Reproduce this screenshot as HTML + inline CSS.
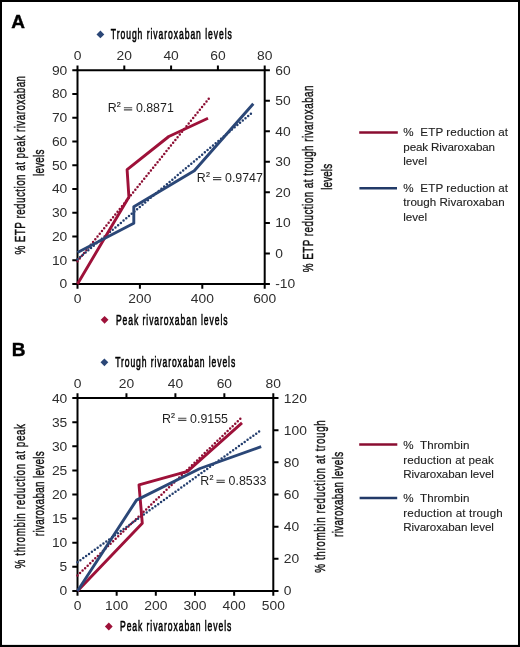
<!DOCTYPE html><html><head><meta charset="utf-8"><style>
html,body{margin:0;padding:0;background:#fff;}svg{display:block;will-change:transform;}
text{font-family:"Liberation Sans",sans-serif;}
.tk{font-size:12.6px;fill:#2e2e2e;}
.ttl{font-size:15.3px;fill:#000;stroke:#000;stroke-width:0.6px;}
.ax{font-size:15px;fill:#111;stroke:#111;stroke-width:0.45px;}
.lg{font-size:11.6px;fill:#222;stroke:#222;stroke-width:0.12px;white-space:pre;}
.r2{font-size:12.4px;fill:#1f1f1f;}
.r2s{font-size:7.2px;fill:#1f1f1f;stroke:#1f1f1f;stroke-width:0.2px;}
.pl{font-size:19px;font-weight:bold;fill:#000;stroke:#000;stroke-width:0.4px;}
</style></head><body>
<svg width="520" height="647" viewBox="0 0 520 647">
<rect x="1" y="1" width="518" height="645" fill="#fff" stroke="#000" stroke-width="2"/>
<rect x="0" y="644.9" width="520" height="2.1" fill="#000"/>
<path d="M77.5 70.2V284H264.7V70.2Z" fill="none" stroke="#000" stroke-width="2"/>
<path d="M72.3 284H77.5 M72.3 260.24H77.5 M72.3 236.49H77.5 M72.3 212.73H77.5 M72.3 188.98H77.5 M72.3 165.22H77.5 M72.3 141.47H77.5 M72.3 117.71H77.5 M72.3 93.96H77.5 M72.3 70.2H77.5 M264.7 284H269.9 M264.7 253.46H269.9 M264.7 222.91H269.9 M264.7 192.37H269.9 M264.7 161.83H269.9 M264.7 131.29H269.9 M264.7 100.74H269.9 M264.7 70.2H269.9 M77.5 284V288.8 M139.9 284V288.8 M202.3 284V288.8 M264.7 284V288.8 M77.5 70.2V65.4 M124.3 70.2V65.4 M171.1 70.2V65.4 M217.9 70.2V65.4 M264.7 70.2V65.4" stroke="#000" stroke-width="2" fill="none"/>
<text class="tk" transform="translate(67.3 288.4) scale(1.1 1)" text-anchor="end">0</text>
<text class="tk" transform="translate(67.3 264.64) scale(1.1 1)" text-anchor="end">10</text>
<text class="tk" transform="translate(67.3 240.89) scale(1.1 1)" text-anchor="end">20</text>
<text class="tk" transform="translate(67.3 217.13) scale(1.1 1)" text-anchor="end">30</text>
<text class="tk" transform="translate(67.3 193.38) scale(1.1 1)" text-anchor="end">40</text>
<text class="tk" transform="translate(67.3 169.62) scale(1.1 1)" text-anchor="end">50</text>
<text class="tk" transform="translate(67.3 145.87) scale(1.1 1)" text-anchor="end">60</text>
<text class="tk" transform="translate(67.3 122.11) scale(1.1 1)" text-anchor="end">70</text>
<text class="tk" transform="translate(67.3 98.36) scale(1.1 1)" text-anchor="end">80</text>
<text class="tk" transform="translate(67.3 74.6) scale(1.1 1)" text-anchor="end">90</text>
<text class="tk" transform="translate(275.2 288.4) scale(1.1 1)" text-anchor="start">-10</text>
<text class="tk" transform="translate(275.2 257.86) scale(1.1 1)" text-anchor="start">0</text>
<text class="tk" transform="translate(275.2 227.31) scale(1.1 1)" text-anchor="start">10</text>
<text class="tk" transform="translate(275.2 196.77) scale(1.1 1)" text-anchor="start">20</text>
<text class="tk" transform="translate(275.2 166.23) scale(1.1 1)" text-anchor="start">30</text>
<text class="tk" transform="translate(275.2 135.69) scale(1.1 1)" text-anchor="start">40</text>
<text class="tk" transform="translate(275.2 105.14) scale(1.1 1)" text-anchor="start">50</text>
<text class="tk" transform="translate(275.2 74.6) scale(1.1 1)" text-anchor="start">60</text>
<text class="tk" transform="translate(77.5 302.9) scale(1.1 1)" text-anchor="middle">0</text>
<text class="tk" transform="translate(139.9 302.9) scale(1.1 1)" text-anchor="middle">200</text>
<text class="tk" transform="translate(202.3 302.9) scale(1.1 1)" text-anchor="middle">400</text>
<text class="tk" transform="translate(264.7 302.9) scale(1.1 1)" text-anchor="middle">600</text>
<text class="tk" transform="translate(77.5 59.9) scale(1.1 1)" text-anchor="middle">0</text>
<text class="tk" transform="translate(124.3 59.9) scale(1.1 1)" text-anchor="middle">20</text>
<text class="tk" transform="translate(171.1 59.9) scale(1.1 1)" text-anchor="middle">40</text>
<text class="tk" transform="translate(217.9 59.9) scale(1.1 1)" text-anchor="middle">60</text>
<text class="tk" transform="translate(264.7 59.9) scale(1.1 1)" text-anchor="middle">80</text>
<text class="pl" x="11.2" y="27.5">A</text>
<path d="M100.4 30.5L104.3 34.4L100.4 38.3L96.5 34.4Z" fill="#2b4777"/>
<text class="ttl" transform="translate(110.8 38.9) scale(0.56 1)" textLength="216.07" lengthAdjust="spacing">Trough rivaroxaban levels</text>
<path d="M104.6 315.9L108.5 319.8L104.6 323.7L100.7 319.8Z" fill="#9e1139"/>
<text class="ttl" transform="translate(115.9 324.6) scale(0.56 1)" textLength="199.29" lengthAdjust="spacing">Peak rivaroxaban levels</text>
<text class="ax" transform="translate(25.4 254.6) rotate(-90) scale(0.66 1)" textLength="270.76" lengthAdjust="spacing">% ETP reduction at peak rivaroxaban</text>
<text class="ax" transform="translate(44 176) rotate(-90) scale(0.66 1)" textLength="40" lengthAdjust="spacing">levels</text>
<text class="ax" transform="translate(312.8 272.3) rotate(-90) scale(0.66 1)" textLength="283.18" lengthAdjust="spacing">% ETP reduction at trough rivaroxaban</text>
<text class="ax" transform="translate(332 189.8) rotate(-90) scale(0.66 1)" textLength="39.24" lengthAdjust="spacing">levels</text>
<polyline points="77.5,261.3 208.8,98.7" fill="none" stroke="#8c0e33" stroke-width="2.5" stroke-dasharray="0 3.5403" stroke-linecap="round"/>
<polyline points="77.5,259.3 251,113.6" fill="none" stroke="#233e6e" stroke-width="2.5" stroke-dasharray="0 3.5380" stroke-linecap="round"/>
<polyline points="77.5,284 128.9,197 127.1,169.7 168.8,136.5 208,118.3" fill="none" stroke="#9e1139" stroke-width="2.9" stroke-linejoin="round"/>
<polyline points="77.5,252.5 133.8,223.3 133.8,206.8 194.3,170.8 253.3,103.8" fill="none" stroke="#2b4777" stroke-width="2.9" stroke-linejoin="round"/>
<text class="r2" x="107.7" y="112.1">R</text>
<text class="r2s" transform="translate(116.8 107.2) scale(1.0 1)">2</text>
<path d="M123.9 107.7h8.3M123.9 109.8h8.3" stroke="#474747" stroke-width="1.15"/>
<text class="r2" x="135.9" y="112.1">0.8871</text>
<text class="r2" x="196.8" y="181.9">R</text>
<text class="r2s" transform="translate(205.9 177) scale(1.0 1)">2</text>
<path d="M213 177.5h8.3M213 179.6h8.3" stroke="#474747" stroke-width="1.15"/>
<text class="r2" x="225" y="181.9">0.9747</text>
<line x1="359.2" y1="132.4" x2="397.8" y2="132.4" stroke="#8a0c30" stroke-width="2.5"/>
<text class="lg" x="403.3" y="136.2" textLength="104.8" lengthAdjust="spacing">%  ETP reduction at</text>
<text class="lg" x="403.3" y="150.8" textLength="91.7" lengthAdjust="spacing">peak Rivaroxaban</text>
<text class="lg" x="403.3" y="165.3">level</text>
<line x1="359.4" y1="188.2" x2="397" y2="188.2" stroke="#223a68" stroke-width="2.5"/>
<text class="lg" x="403.3" y="191.8" textLength="104.8" lengthAdjust="spacing">%  ETP reduction at</text>
<text class="lg" x="403.3" y="206.4" textLength="101.3" lengthAdjust="spacing">trough Rivaroxaban</text>
<text class="lg" x="403.3" y="221.1">level</text>
<path d="M77.5 398.1V590.9H273.3V398.1Z" fill="none" stroke="#000" stroke-width="2"/>
<path d="M72.3 590.9H77.5 M72.3 566.8H77.5 M72.3 542.7H77.5 M72.3 518.6H77.5 M72.3 494.5H77.5 M72.3 470.4H77.5 M72.3 446.3H77.5 M72.3 422.2H77.5 M72.3 398.1H77.5 M273.3 590.9H278.5 M273.3 558.77H278.5 M273.3 526.63H278.5 M273.3 494.5H278.5 M273.3 462.37H278.5 M273.3 430.23H278.5 M273.3 398.1H278.5 M77.5 590.9V595.7 M116.66 590.9V595.7 M155.82 590.9V595.7 M194.98 590.9V595.7 M234.14 590.9V595.7 M273.3 590.9V595.7 M77.5 398.1V393.3 M126.45 398.1V393.3 M175.4 398.1V393.3 M224.35 398.1V393.3 M273.3 398.1V393.3" stroke="#000" stroke-width="2" fill="none"/>
<text class="tk" transform="translate(67.3 595.3) scale(1.1 1)" text-anchor="end">0</text>
<text class="tk" transform="translate(67.3 571.2) scale(1.1 1)" text-anchor="end">5</text>
<text class="tk" transform="translate(67.3 547.1) scale(1.1 1)" text-anchor="end">10</text>
<text class="tk" transform="translate(67.3 523) scale(1.1 1)" text-anchor="end">15</text>
<text class="tk" transform="translate(67.3 498.9) scale(1.1 1)" text-anchor="end">20</text>
<text class="tk" transform="translate(67.3 474.8) scale(1.1 1)" text-anchor="end">25</text>
<text class="tk" transform="translate(67.3 450.7) scale(1.1 1)" text-anchor="end">30</text>
<text class="tk" transform="translate(67.3 426.6) scale(1.1 1)" text-anchor="end">35</text>
<text class="tk" transform="translate(67.3 402.5) scale(1.1 1)" text-anchor="end">40</text>
<text class="tk" transform="translate(283.8 595.3) scale(1.1 1)" text-anchor="start">0</text>
<text class="tk" transform="translate(283.8 563.17) scale(1.1 1)" text-anchor="start">20</text>
<text class="tk" transform="translate(283.8 531.03) scale(1.1 1)" text-anchor="start">40</text>
<text class="tk" transform="translate(283.8 498.9) scale(1.1 1)" text-anchor="start">60</text>
<text class="tk" transform="translate(283.8 466.77) scale(1.1 1)" text-anchor="start">80</text>
<text class="tk" transform="translate(283.8 434.63) scale(1.1 1)" text-anchor="start">100</text>
<text class="tk" transform="translate(283.8 402.5) scale(1.1 1)" text-anchor="start">120</text>
<text class="tk" transform="translate(77.5 609.8) scale(1.1 1)" text-anchor="middle">0</text>
<text class="tk" transform="translate(116.66 609.8) scale(1.1 1)" text-anchor="middle">100</text>
<text class="tk" transform="translate(155.82 609.8) scale(1.1 1)" text-anchor="middle">200</text>
<text class="tk" transform="translate(194.98 609.8) scale(1.1 1)" text-anchor="middle">300</text>
<text class="tk" transform="translate(234.14 609.8) scale(1.1 1)" text-anchor="middle">400</text>
<text class="tk" transform="translate(273.3 609.8) scale(1.1 1)" text-anchor="middle">500</text>
<text class="tk" transform="translate(77.5 387.8) scale(1.1 1)" text-anchor="middle">0</text>
<text class="tk" transform="translate(126.45 387.8) scale(1.1 1)" text-anchor="middle">20</text>
<text class="tk" transform="translate(175.4 387.8) scale(1.1 1)" text-anchor="middle">40</text>
<text class="tk" transform="translate(224.35 387.8) scale(1.1 1)" text-anchor="middle">60</text>
<text class="tk" transform="translate(273.3 387.8) scale(1.1 1)" text-anchor="middle">80</text>
<text class="pl" x="11.7" y="356">B</text>
<path d="M104.4 358.4L108.3 362.3L104.4 366.2L100.5 362.3Z" fill="#2b4777"/>
<text class="ttl" transform="translate(115.2 366.9) scale(0.56 1)" textLength="214.29" lengthAdjust="spacing">Trough rivaroxaban levels</text>
<path d="M108.8 622.6L112.7 626.5L108.8 630.4L104.9 626.5Z" fill="#9e1139"/>
<text class="ttl" transform="translate(120 631.2) scale(0.56 1)" textLength="198.75" lengthAdjust="spacing">Peak rivaroxaban levels</text>
<text class="ax" transform="translate(25.2 568.4) rotate(-90) scale(0.66 1)" textLength="218.79" lengthAdjust="spacing">% thrombin reduction at peak</text>
<text class="ax" transform="translate(43.6 536.2) rotate(-90) scale(0.66 1)" textLength="128.64" lengthAdjust="spacing">rivaroxaban levels</text>
<text class="ax" transform="translate(325.2 572.7) rotate(-90) scale(0.66 1)" textLength="231.06" lengthAdjust="spacing">% thrombin reduction at trough</text>
<text class="ax" transform="translate(343 536.9) rotate(-90) scale(0.66 1)" textLength="128.79" lengthAdjust="spacing">rivaroxaban levels</text>
<polyline points="77.5,575.5 240.4,418.7" fill="none" stroke="#8c0e33" stroke-width="2.5" stroke-dasharray="0 3.5309" stroke-linecap="round"/>
<polyline points="77.5,562.2 259.2,431.5" fill="none" stroke="#233e6e" stroke-width="2.5" stroke-dasharray="0 3.5508" stroke-linecap="round"/>
<polyline points="77.5,591 142.3,523.3 139,484.8 187.5,471.3 242,422.8" fill="none" stroke="#9e1139" stroke-width="2.9" stroke-linejoin="round"/>
<polyline points="77.5,591 136.5,500.1 200,468.5 261.2,446.6" fill="none" stroke="#2b4777" stroke-width="2.9" stroke-linejoin="round"/>
<text class="r2" x="161.9" y="422.6">R</text>
<text class="r2s" transform="translate(171 417.7) scale(1.0 1)">2</text>
<path d="M178.1 418.2h8.3M178.1 420.3h8.3" stroke="#474747" stroke-width="1.15"/>
<text class="r2" x="190.1" y="422.6">0.9155</text>
<text class="r2" x="200.3" y="484.6">R</text>
<text class="r2s" transform="translate(209.4 479.7) scale(1.0 1)">2</text>
<path d="M216.5 480.2h8.3M216.5 482.3h8.3" stroke="#474747" stroke-width="1.15"/>
<text class="r2" x="228.6" y="484.6">0.8533</text>
<line x1="359.2" y1="444.4" x2="397.3" y2="444.4" stroke="#8a0c30" stroke-width="2.5"/>
<text class="lg" x="403.3" y="448.8" textLength="66.1" lengthAdjust="spacing">%  Thrombin</text>
<text class="lg" x="403.3" y="463.7" textLength="90.6" lengthAdjust="spacing">reduction at peak</text>
<text class="lg" x="403.3" y="478.2" textLength="90.5" lengthAdjust="spacing">Rivaroxaban level</text>
<line x1="359.6" y1="497.9" x2="397.2" y2="497.9" stroke="#223a68" stroke-width="2.5"/>
<text class="lg" x="403.3" y="501.9" textLength="66.1" lengthAdjust="spacing">%  Thrombin</text>
<text class="lg" x="403.3" y="516.7" textLength="99.4" lengthAdjust="spacing">reduction at trough</text>
<text class="lg" x="403.3" y="531.2" textLength="90.5" lengthAdjust="spacing">Rivaroxaban level</text>
</svg></body></html>
